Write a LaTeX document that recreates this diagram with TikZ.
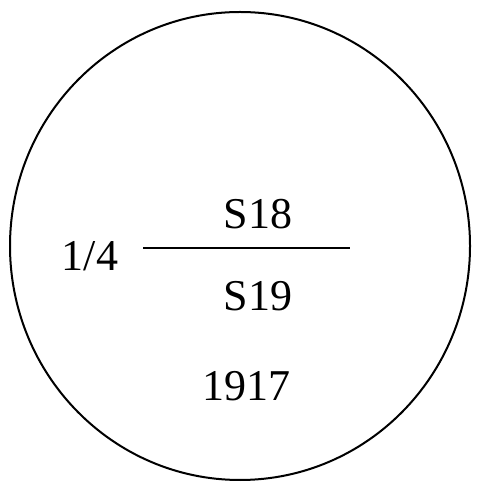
\documentclass[tikz,border=0pt]{standalone}
\usepackage{fontspec}
\setmainfont{Liberation Serif}
\begin{document}
\begin{tikzpicture}[x=1pt,y=1pt,
  lbl/.style={inner sep=0pt,font=\fontsize{44}{48}\selectfont}]
\useasboundingbox (0,0) rectangle (478,484);
\draw[line width=2pt] (240,238) ellipse [x radius=230, y radius=234] node (ring) {};
\coordinate (la) at (143,236);
\coordinate (lb) at (350,236);
\draw[line width=2.6pt] (la) -- (lb);
\node[lbl] (q) at (90,228) {1/4};
\node[lbl] (s18) at (258,270) {S18};
\node[lbl] (s19) at (258,188) {S19};
\node[lbl] (yr) at (246,98) {1917};
\end{tikzpicture}
\end{document}
